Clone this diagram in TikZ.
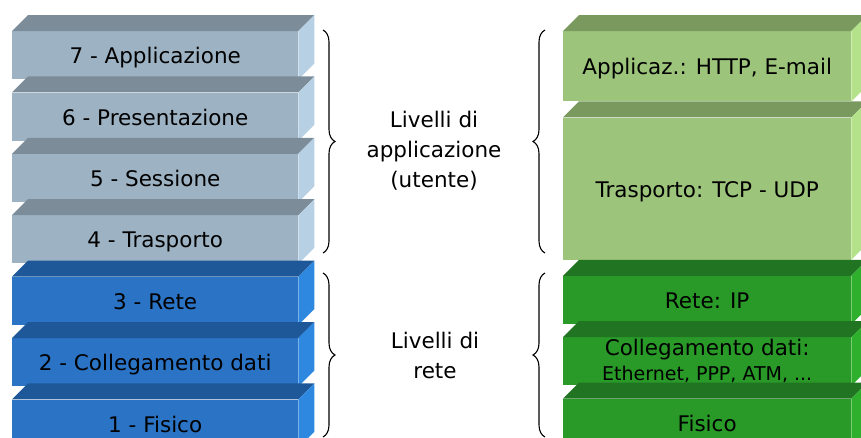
\documentclass[tikz,border=0pt]{standalone}
\usepackage{fontspec}
\setmainfont{DejaVu Sans}
\usetikzlibrary{positioning, decorations.pathreplacing}

% colours of the faces
\definecolor{grayfront}{HTML}{9DB2C3}
\definecolor{graytop}{HTML}{7C8C99}
\definecolor{grayside}{HTML}{B7D0E3}
\definecolor{bluefront}{HTML}{2A73C5}
\definecolor{bluetop}{HTML}{1F5898}
\definecolor{blueside}{HTML}{2E88DF}
\definecolor{lgreenfront}{HTML}{9CC47A}
\definecolor{lgreentop}{HTML}{7A995F}
\definecolor{lgreenside}{HTML}{B4E28B}
\definecolor{dgreenfront}{HTML}{299A28}
\definecolor{dgreentop}{HTML}{217522}
\definecolor{dgreenside}{HTML}{2FB02D}

% top and side face of a block
\newcommand{\blockfaces}[3]{%
  \fill[#2] (#1.north west) -- ++(16,-16) -- ([shift={(16,-16)}]#1.north east) -- (#1.north east) -- cycle;
  \fill[#3] (#1.north east) -- ++(16,-16) -- ([shift={(16,-16)}]#1.south east) -- (#1.south east) -- cycle;}

\begin{document}
\begin{tikzpicture}[
    x=1pt, y=-1pt,
    font=\fontsize{21.5}{30}\selectfont,
    block/.style={anchor=north west, inner sep=0pt, minimum width=286pt, minimum height=48pt, align=center, text height=17pt, text depth=0pt},
    osigray/.style={block, fill=grayfront},
    osiblue/.style={block, fill=bluefront},
    tcplight/.style={block, fill=lgreenfront, minimum width=288pt},
    tcpdark/.style={block, fill=dgreenfront, minimum width=288pt},
    bracket/.style={draw, line width=1.1pt, decorate, decoration={brace, amplitude=12pt}},
    levels/.style={align=center}
]
    \useasboundingbox (0,0) rectangle (861,437);
    \clip (0,0) rectangle (861,437);

    % OSI stack
    \node[osigray] (app7) at (12,31) {7 - Applicazione};
    \blockfaces{app7}{graytop}{grayside}
    \node[osigray, below=13pt of app7] (pres6) {6 - Presentazione};
    \blockfaces{pres6}{graytop}{grayside}
    \node[osigray, below=13pt of pres6] (sess5) {5 - Sessione};
    \blockfaces{sess5}{graytop}{grayside}
    \node[osigray, below=13pt of sess5] (trasp4) {4 - Trasporto};
    \blockfaces{trasp4}{graytop}{grayside}
    \node[osiblue, below=13pt of trasp4] (rete3) {3 - Rete};
    \blockfaces{rete3}{bluetop}{blueside}
    \node[osiblue, below=13pt of rete3] (coll2) {2 - Collegamento dati};
    \blockfaces{coll2}{bluetop}{blueside}
    \node[osiblue, below=13pt of coll2] (fis1) {1 - Fisico};
    \blockfaces{fis1}{bluetop}{blueside}

    % TCP/IP stack
    \node[tcplight, minimum height=70pt] (tcpapp) at (563,31) {Applicaz.: HTTP, E-mail};
    \blockfaces{tcpapp}{lgreentop}{lgreenside}
    \node[tcplight, minimum height=142pt, below=16pt of tcpapp] (tcptrasp) {Trasporto: TCP - UDP};
    \blockfaces{tcptrasp}{lgreentop}{lgreenside}
    \node[tcpdark, below=16pt of tcptrasp] (tcprete) {Rete: IP};
    \blockfaces{tcprete}{dgreentop}{dgreenside}
    \node[tcpdark, below=13pt of tcprete, text height=, text depth=] (tcpcoll) {\raisebox{4pt}{Collegamento dati:}\\[-9pt]{\fontsize{19}{20}\selectfont Ethernet, PPP, ATM, ...}};
    \blockfaces{tcpcoll}{dgreentop}{dgreenside}
    \node[tcpdark, below=13pt of tcpcoll] (tcpfis) {Fisico};
    \blockfaces{tcpfis}{dgreentop}{dgreenside}

    % Braces
    \coordinate (appl_top) at (323,30);
    \coordinate (appl_bot) at (323,253);
    \coordinate (net_top) at (323,273);
    \coordinate (net_bot) at (323,437);
    \coordinate (tappl_top) at (545,30);
    \coordinate (tappl_bot) at (545,253);
    \coordinate (tnet_top) at (545,273);
    \coordinate (tnet_bot) at (545,437);
    \draw[bracket] (appl_top) -- (appl_bot);
    \draw[bracket] (net_top) -- (net_bot);
    \draw[bracket] (tappl_bot) -- (tappl_top);
    \draw[bracket] (tnet_bot) -- (tnet_top);

    % Labels
    \node[levels] (appl_label) at (434,151) {Livelli di\\applicazione\\(utente)};
    \node[levels] (net_label) at (435,355) {Livelli di\\rete};

\end{tikzpicture}
\end{document}
